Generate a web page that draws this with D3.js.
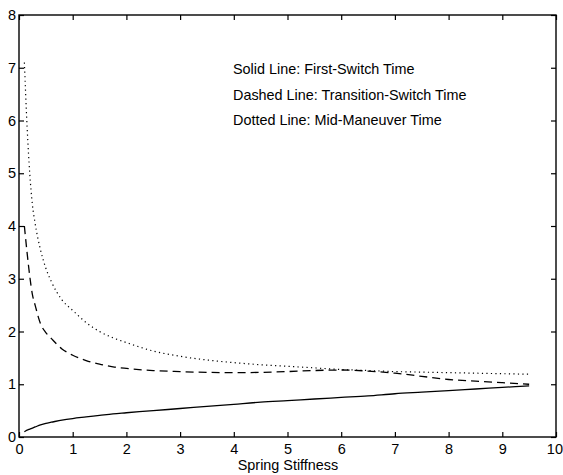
<!DOCTYPE html>
<html>
<head>
<meta charset="utf-8">
<script src="https://cdn.jsdelivr.net/npm/d3@7"></script>
<style>
  body { margin: 0; background: #fff; }
  text { font-family: "Liberation Sans", Arial, sans-serif; fill: #000; }
</style>
</head>
<body>
<svg id="chart" width="563" height="475"></svg>
<script>
// spring stiffness samples
const stiffness = [0.1, 0.15, 0.2, 0.25, 0.3, 0.4, 0.5, 0.6, 0.8, 1.0, 1.25, 1.5, 1.75, 2, 2.5, 3, 3.5, 4, 4.5, 5, 5.5, 6, 6.5, 7, 7.5, 8, 8.5, 9, 9.5];
const firstSwitch = [0.1, 0.13, 0.15, 0.17, 0.19, 0.23, 0.26, 0.28, 0.32, 0.35, 0.38, 0.41, 0.44, 0.46, 0.5, 0.54, 0.58, 0.62, 0.66, 0.69, 0.72, 0.75, 0.78, 0.82, 0.85, 0.88, 0.91, 0.94, 0.97];
const transitionSwitch = [4.0, 3.5, 3.05, 2.7, 2.5, 2.15, 1.98, 1.87, 1.67, 1.55, 1.45, 1.38, 1.33, 1.3, 1.26, 1.24, 1.225, 1.22, 1.225, 1.24, 1.26, 1.27, 1.25, 1.21, 1.15, 1.09, 1.06, 1.03, 1.0];
const midManeuver = [7.1, 5.9, 5.0, 4.4, 4.05, 3.55, 3.2, 2.95, 2.6, 2.4, 2.17, 2.0, 1.88, 1.79, 1.63, 1.53, 1.46, 1.41, 1.37, 1.34, 1.31, 1.28, 1.26, 1.24, 1.23, 1.22, 1.21, 1.2, 1.19];
const xTicks = [0, 1, 2, 3, 4, 5, 6, 7, 8, 9, 10];
const yTicks = [0, 1, 2, 3, 4, 5, 6, 7, 8];
const legendLines = ["Solid Line: First-Switch Time", "Dashed Line: Transition-Switch Time", "Dotted Line: Mid-Maneuver Time"];

const svg = d3.select("#chart");
const plotLeft = 19, plotRight = 556, plotTop = 15, plotBottom = 437;

const x = d3.scaleLinear().domain([0, 10]).range([plotLeft, plotRight]);
const y = d3.scaleLinear().domain([0, 8]).range([plotBottom, plotTop]);

const tickLen = 5;

// ticks, inward on all four sides
const xAxisG = svg.append("g").attr("transform", `translate(0,${plotBottom})`)
    .call(d3.axisBottom(x).tickValues(xTicks).tickSizeInner(-tickLen).tickSizeOuter(0).tickPadding(7))
    .call(g => g.select(".domain").remove());
svg.append("g").attr("transform", `translate(0,${plotTop})`)
    .call(d3.axisTop(x).tickValues(xTicks).tickSizeInner(-tickLen).tickSizeOuter(0).tickFormat(""))
    .call(g => g.select(".domain").remove());
svg.append("g").attr("transform", `translate(${plotLeft},0)`)
    .call(d3.axisLeft(y).tickValues(yTicks).tickSizeInner(-tickLen).tickSizeOuter(0).tickPadding(3))
    .call(g => g.select(".domain").remove());
svg.append("g").attr("transform", `translate(${plotRight},0)`)
    .call(d3.axisRight(y).tickValues(yTicks).tickSizeInner(-tickLen).tickSizeOuter(0).tickFormat(""))
    .call(g => g.select(".domain").remove());

svg.selectAll(".tick line").attr("stroke", "#000").attr("stroke-width", 1.2);
svg.selectAll(".tick text").style("font-size", "14.5px").style("font-family", "'Liberation Sans', Arial, sans-serif");

// last label sits against the page edge
xAxisG.selectAll(".tick text").filter(d => d === 10)
    .attr("text-anchor", "end").attr("x", 6.5);

// frame
svg.append("rect")
    .attr("x", plotLeft).attr("y", plotTop)
    .attr("width", plotRight - plotLeft).attr("height", plotBottom - plotTop)
    .attr("fill", "none").attr("stroke", "#000").attr("stroke-width", 1.4);

const line = d3.line()
    .x((d, i) => x(stiffness[i]))
    .y(d => y(d))
    .curve(d3.curveMonotoneX);

svg.append("path").datum(firstSwitch)
    .attr("d", line).attr("fill", "none").attr("stroke", "#000").attr("stroke-width", 1.3);

svg.append("path").datum(transitionSwitch)
    .attr("d", line).attr("fill", "none").attr("stroke", "#000").attr("stroke-width", 1.3)
    .attr("stroke-dasharray", "8,5");

svg.append("path").datum(midManeuver)
    .attr("d", line).attr("fill", "none").attr("stroke", "#000").attr("stroke-width", 1.2)
    .attr("stroke-dasharray", "1.2,3.3");

// legend text
svg.selectAll(".legend").data(legendLines).enter().append("text")
    .attr("class", "legend")
    .attr("x", 233)
    .attr("y", (d, i) => 74 + i * 25.5)
    .style("font-size", "14.4px")
    .text(d => d);

svg.append("text")
    .attr("x", (plotLeft + plotRight) / 2 + 0.5)
    .attr("y", 470)
    .attr("text-anchor", "middle")
    .style("font-size", "14.4px")
    .text("Spring Stiffness");
</script>
</body>
</html>
